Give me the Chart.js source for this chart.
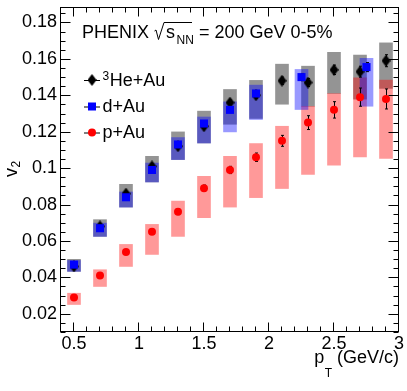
<!DOCTYPE html>
<html>
<head>
<meta charset="utf-8">
<script src="https://cdn.jsdelivr.net/npm/chart.js@4.4.0/dist/chart.umd.min.js"></script>
<style>
  html, body { margin: 0; padding: 0; background: #fff; }
  #wrap { width: 407px; height: 391px; position: relative; }
</style>
</head>
<body>
<div id="wrap"><canvas id="chart" width="407" height="391"></canvas></div>
<script>
// ---- data ----
// 3He+Au
const heX     = [0.5, 0.7, 0.9, 1.1, 1.3, 1.5, 1.7, 1.9, 2.1, 2.3, 2.5, 2.7, 2.9];
const heV2    = [0.046, 0.068, 0.086, 0.101, 0.112, 0.123, 0.136, 0.140, 0.148, 0.147, 0.154, 0.153, 0.159];
const heStat  = [0.001, 0.001, 0.001, 0.0012, 0.0012, 0.0013, 0.0014, 0.0016, 0.002, 0.0022, 0.0026, 0.003, 0.0033];
const heSysLo = [0.0433, 0.0625, 0.0786, 0.0924, 0.1047, 0.1138, 0.1241, 0.1273, 0.1351, 0.1340, 0.1410, 0.1379, 0.1438];
const heSysHi = [0.0499, 0.0717, 0.0911, 0.1065, 0.1199, 0.1313, 0.1432, 0.1482, 0.1571, 0.1560, 0.1636, 0.1621, 0.1688];

// d+Au
const dX     = [0.5, 0.7, 0.9, 1.1, 1.3, 1.5, 1.7, 1.9, 2.25, 2.75];
const dV2    = [0.047, 0.067, 0.084, 0.099, 0.113, 0.1245, 0.132, 0.141, 0.150, 0.1555];
const dStat  = [0.001, 0.001, 0.001, 0.001, 0.0012, 0.0013, 0.0015, 0.0017, 0.002, 0.0025];
const dSysLo = [0.0433, 0.0625, 0.0786, 0.0924, 0.1047, 0.1138, 0.1199, 0.1267, 0.1322, 0.1340];
const dSysHi = [0.0493, 0.0698, 0.0869, 0.1028, 0.1168, 0.1281, 0.1364, 0.1456, 0.1542, 0.1603];

// p+Au
const pX     = [0.5, 0.7, 0.9, 1.1, 1.3, 1.5, 1.7, 1.9, 2.1, 2.3, 2.5, 2.7, 2.9];
const pV2    = [0.029, 0.041, 0.054, 0.065, 0.076, 0.089, 0.099, 0.106, 0.115, 0.125, 0.132, 0.139, 0.138];
const pStat  = [0.001, 0.001, 0.0012, 0.0013, 0.0015, 0.0017, 0.002, 0.0023, 0.003, 0.0038, 0.0045, 0.005, 0.0055];
const pSysLo = [0.0251, 0.0350, 0.0460, 0.0526, 0.0625, 0.0728, 0.0786, 0.0838, 0.0888, 0.0966, 0.1016, 0.1061, 0.1053];
const pSysHi = [0.0313, 0.0442, 0.0581, 0.0691, 0.0819, 0.0955, 0.1065, 0.1135, 0.1230, 0.1340, 0.1410, 0.1496, 0.1483];

// axes
const xTicks = [0.5, 1, 1.5, 2, 2.5, 3];
const yTicks = [0.02, 0.04, 0.06, 0.08, 0.1, 0.12, 0.14, 0.16, 0.18];
const xRange = [0.4, 3.0];
const yRange = [0.01, 0.1885];
const xMinorStep = 0.1;
const yMinorStep = 0.005;

const FONT = '"Liberation Sans", Arial, Helvetica, sans-serif';

// thin diamond marker (ROOT style)
function diamond(w, h, color) {
  const c = document.createElement('canvas');
  c.width = w; c.height = h;
  const g = c.getContext('2d');
  g.fillStyle = color;
  g.beginPath();
  g.moveTo(w / 2, 0); g.lineTo(w, h / 2); g.lineTo(w / 2, h); g.lineTo(0, h / 2);
  g.closePath(); g.fill();
  return c;
}
const heMarker = diamond(9, 12, '#000');

const pts = (xs, ys) => xs.map((x, i) => ({ x: x, y: ys[i] }));
const boxes = (xs, lo, hi) => xs.map((x, i) => ({ x: x, y: [lo[i], hi[i]] }));

const boxOpts = { type: 'bar', grouped: false, barThickness: 13, borderWidth: 0 };

// error bars drawn right before each marker set
const errorBars = {
  id: 'errorBars',
  beforeDatasetDraw(chart, args) {
    const ds = chart.data.datasets[args.index];
    if (!ds.stat) return;
    const xs = chart.scales.x, ys = chart.scales.y, ctx = chart.ctx;
    ctx.save();
    ctx.strokeStyle = '#000';
    ctx.lineWidth = 1;
    ds.data.forEach((p, i) => {
      const px = Math.round(xs.getPixelForValue(p.x)) + 0.5;
      const y1 = ys.getPixelForValue(p.y - ds.stat[i]);
      const y2 = ys.getPixelForValue(p.y + ds.stat[i]);
      ctx.beginPath();
      ctx.moveTo(px, y1); ctx.lineTo(px, y2);
      ctx.moveTo(px - 1.5, y1); ctx.lineTo(px + 1.5, y1);
      ctx.moveTo(px - 1.5, y2); ctx.lineTo(px + 1.5, y2);
      ctx.stroke();
    });
    ctx.restore();
  }
};

// frame, inward ticks, texts, legend
const decorations = {
  id: 'decorations',
  afterDraw(chart) {
    const ctx = chart.ctx, a = chart.chartArea;
    const xs = chart.scales.x, ys = chart.scales.y;
    const L = a.left - 0.5, R = a.right - 0.5, T = a.top + 0.5, B = a.bottom - 0.5;
    ctx.save();
    ctx.strokeStyle = '#000';
    ctx.lineWidth = 1;
    ctx.strokeRect(L, T, R - L, B - T);

    ctx.beginPath();
    for (let v = Math.ceil(xRange[0] / xMinorStep) * xMinorStep; v <= xRange[1] + 1e-9; v += xMinorStep) {
      const major = xTicks.some(t => Math.abs(t - v) < 1e-6);
      const len = major ? 9 : 5;
      const px = Math.round(xs.getPixelForValue(v)) - 0.5;
      ctx.moveTo(px, B); ctx.lineTo(px, B - len);
      ctx.moveTo(px, T); ctx.lineTo(px, T + len);
    }
    for (let v = Math.ceil(yRange[0] / yMinorStep) * yMinorStep; v <= yRange[1] + 1e-9; v += yMinorStep) {
      const major = yTicks.some(t => Math.abs(t - v) < 1e-6);
      const len = major ? 10 : 5;
      const py = Math.round(ys.getPixelForValue(v)) + 0.5;
      ctx.moveTo(L, py); ctx.lineTo(L + len, py);
      ctx.moveTo(R, py); ctx.lineTo(R - len, py);
    }
    ctx.stroke();

    ctx.fillStyle = '#000';
    ctx.textBaseline = 'alphabetic';
    ctx.textAlign = 'left';

    // header: PHENIX sqrt(s_NN) = 200 GeV 0-5%
    ctx.font = '18px ' + FONT;
    ctx.fillText('PHENIX', 82, 37.5);
    ctx.beginPath();
    ctx.moveTo(154.5, 31); ctx.lineTo(156, 30);
    ctx.lineTo(158.5, 39.5); ctx.lineTo(164, 22.5); ctx.lineTo(192, 22.5);
    ctx.stroke();
    ctx.fillText('s', 166, 37.5);
    ctx.font = '12px ' + FONT;
    ctx.fillText('NN', 176.5, 44);
    ctx.font = '18px ' + FONT;
    ctx.fillText('= 200 GeV 0-5%', 199, 37.5);

    // legend
    const legend = [
      { y: 80, marker: 'he', label: 'He+Au', sup: '3' },
      { y: 106.5, marker: 'd', label: 'd+Au' },
      { y: 132.5, marker: 'p', label: 'p+Au' }
    ];
    legend.forEach(e => {
      const mx = 92;
      ctx.beginPath();
      ctx.moveTo(84, e.y + 0.5); ctx.lineTo(100, e.y + 0.5);
      ctx.stroke();
      if (e.marker === 'he') {
        ctx.drawImage(heMarker, mx - 4.5, e.y - 6);
      } else if (e.marker === 'd') {
        ctx.fillStyle = '#0000ff';
        ctx.fillRect(mx - 4, e.y - 4, 8, 8);
      } else {
        ctx.fillStyle = '#ff0000';
        ctx.beginPath(); ctx.arc(mx, e.y, 4, 0, Math.PI * 2); ctx.fill();
      }
      ctx.fillStyle = '#000';
      let tx = 102.5;
      if (e.sup) {
        ctx.font = '12px ' + FONT;
        ctx.fillText(e.sup, tx, e.y);
        tx += ctx.measureText(e.sup).width + 0.5;
      }
      ctx.font = '18px ' + FONT;
      ctx.fillText(e.label, tx, e.y + 5.5);
    });

    // x title: p_T (GeV/c), right aligned at the axis end
    ctx.font = '18px ' + FONT;
    const unit = ' (GeV/c)';
    const wUnit = ctx.measureText(unit).width;
    ctx.textAlign = 'right';
    ctx.fillText(unit, a.right, 363);
    ctx.font = '12px ' + FONT;
    const wT = ctx.measureText('T').width;
    ctx.fillText('T', a.right - wUnit, 376.5);
    ctx.font = '18px ' + FONT;
    ctx.fillText('p', a.right - wUnit - wT - 0.5, 363);

    // y title: v_2 rotated
    ctx.textAlign = 'left';
    ctx.translate(16.5, 177);
    ctx.rotate(-Math.PI / 2);
    ctx.font = '18px ' + FONT;
    ctx.fillText('v', 0, 0);
    const wv = ctx.measureText('v').width;
    ctx.font = '12px ' + FONT;
    ctx.fillText('2', wv + 0.5, 3);
    ctx.restore();
  }
};

Chart.defaults.font.family = FONT;
Chart.defaults.font.size = 18;
Chart.defaults.color = '#000';

new Chart(document.getElementById('chart'), {
  type: 'bar',
  data: {
    datasets: [
      Object.assign({ label: 'He sys', data: boxes(heX, heSysLo, heSysHi), backgroundColor: 'rgba(0,0,0,0.42)', order: 6 }, boxOpts),
      Object.assign({ label: 'p sys', data: boxes(pX, pSysLo, pSysHi), backgroundColor: 'rgba(255,0,0,0.4)', order: 5 }, boxOpts),
      Object.assign({ label: 'd sys', data: boxes(dX, dSysLo, dSysHi), backgroundColor: 'rgba(0,0,255,0.4)', order: 4 }, boxOpts),
      { type: 'scatter', label: '3He+Au', data: pts(heX, heV2), stat: heStat, pointStyle: heMarker, pointRadius: 6, borderWidth: 0, order: 3 },
      { type: 'scatter', label: 'd+Au', data: pts(dX, dV2), stat: dStat, pointStyle: 'rect', pointRadius: 5.7, backgroundColor: '#0000ff', borderWidth: 0, order: 2 },
      { type: 'scatter', label: 'p+Au', data: pts(pX, pV2), stat: pStat, pointStyle: 'circle', pointRadius: 4, backgroundColor: '#ff0000', borderWidth: 0, order: 1 }
    ]
  },
  options: {
    responsive: false,
    animation: false,
    events: [],
    layout: { padding: { top: 7, right: 8, left: 0, bottom: 0 } },
    plugins: { legend: { display: false }, tooltip: { enabled: false } },
    scales: {
      x: {
        type: 'linear',
        min: xRange[0], max: xRange[1],
        offset: false,
        grid: { display: false, drawTicks: false },
        border: { display: false },
        ticks: { padding: 1, maxRotation: 0, autoSkip: false, callback: v => String(v) },
        afterBuildTicks: s => { s.ticks = xTicks.map(v => ({ value: v })); },
        afterFit: s => { s.height = 59; s.paddingLeft = 0; s.paddingRight = 0; }
      },
      y: {
        type: 'linear',
        min: yRange[0], max: yRange[1],
        grid: { display: false, drawTicks: false },
        border: { display: false },
        ticks: { padding: 4, autoSkip: false, callback: v => String(v) },
        afterBuildTicks: s => { s.ticks = yTicks.map(v => ({ value: v })); },
        afterFit: s => { s.width = 61; s.paddingTop = 0; s.paddingBottom = 0; }
      }
    }
  },
  plugins: [errorBars, decorations]
});
</script>
</body>
</html>
